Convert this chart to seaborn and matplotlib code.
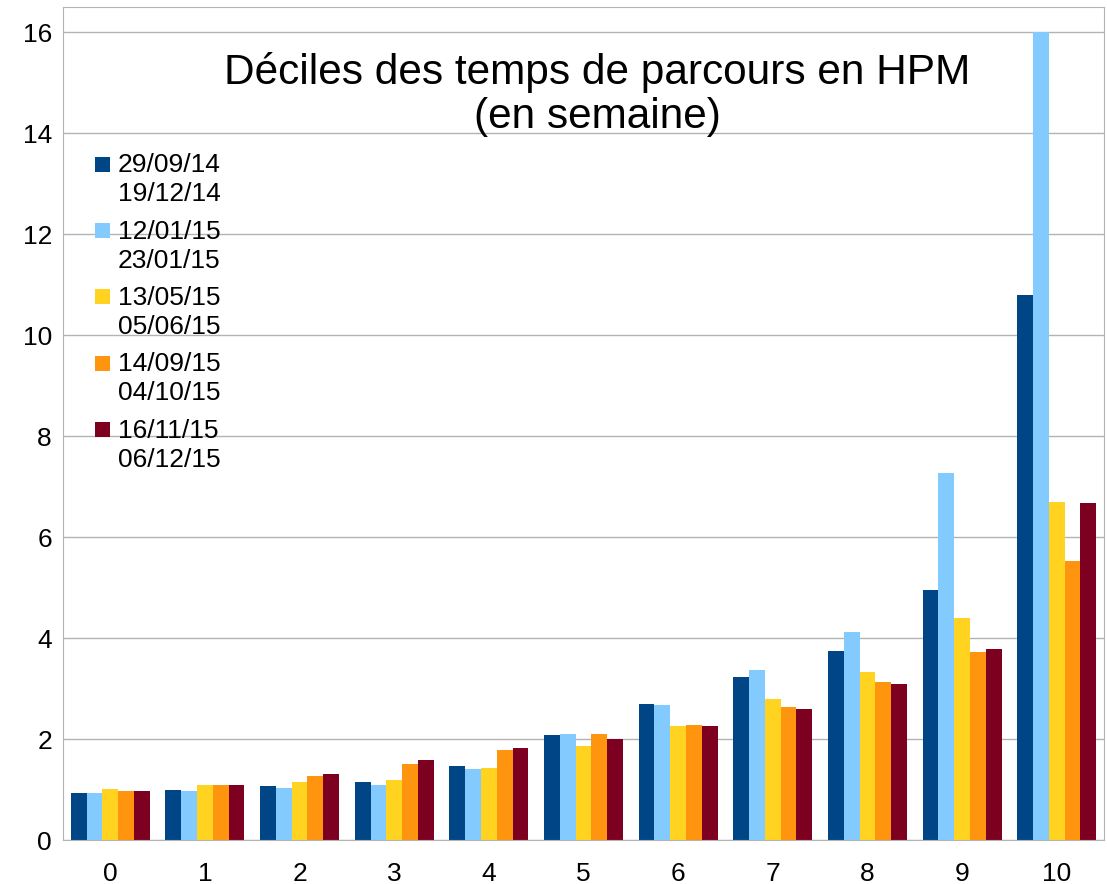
import numpy as np
import pandas as pd
import matplotlib
matplotlib.use('Agg')
import matplotlib.pyplot as plt
from matplotlib.patches import Rectangle
from matplotlib.legend_handler import HandlerPatch
import seaborn as sns

deciles = [str(i) for i in range(11)]
periods = ['29/09/14\n19/12/14', '12/01/15\n23/01/15', '13/05/15\n05/06/15',
           '14/09/15\n04/10/15', '16/11/15\n06/12/15']
colors = ['#004586', '#83CAFF', '#FFD320', '#FF950E', '#7E0021']

p1 = [0.93, 0.99, 1.07, 1.15, 1.47, 2.08, 2.69, 3.23, 3.74, 4.95, 10.79]
p2 = [0.93, 0.97, 1.03, 1.09, 1.41, 2.10, 2.67, 3.37, 4.12, 7.27, 16.0]
p3 = [1.01, 1.09, 1.15, 1.19, 1.43, 1.86, 2.26, 2.79, 3.33, 4.40, 6.69]
p4 = [0.97, 1.09, 1.27, 1.50, 1.78, 2.10, 2.28, 2.63, 3.13, 3.72, 5.52]
p5 = [0.97, 1.09, 1.31, 1.58, 1.82, 2.00, 2.26, 2.59, 3.09, 3.78, 6.67]

df = pd.DataFrame({'decile': deciles * 5,
                   'periode': np.repeat(periods, len(deciles)),
                   'temps': p1 + p2 + p3 + p4 + p5})

sns.set_style('white')
plt.rcParams['font.family'] = ['Liberation Sans', 'DejaVu Sans']
plt.rcParams['text.color'] = 'black'

fig = plt.figure(figsize=(11.07, 8.84), dpi=100)
ax = fig.add_axes([63 / 1107, 44 / 884, 1041 / 1107, 833 / 884])

sns.barplot(data=df, x='decile', y='temps', hue='periode', order=deciles,
            hue_order=periods, palette=colors, width=0.835, gap=0,
            saturation=1, linewidth=0, ax=ax, legend=True)

ax.set_xlim(-0.5, 10.5)
ax.set_ylim(0, 16.5)
ax.set_yticks(range(0, 17, 2))
ax.yaxis.grid(True, color='#b3b3b3', linewidth=1)
ax.set_axisbelow(True)
for s in ax.spines.values():
    s.set_color('#b3b3b3')
ax.set_xlabel('')
ax.set_ylabel('')

ax.set_xticks(np.arange(-0.5, 11, 1), minor=True)
ax.tick_params(axis='x', which='major', length=0, labelsize=19, pad=16,
               labelcolor='black')
ax.tick_params(axis='x', which='minor', length=6, color='#b3b3b3', width=1)
ax.tick_params(axis='y', length=4, color='#b3b3b3', labelsize=19, pad=4,
               labelcolor='black')

ax.text(0.513, 0.895, 'Déciles des temps de parcours en HPM\n(en semaine)',
        transform=ax.transAxes, ha='center', va='center', fontsize=30.5,
        linespacing=1.12, color='black')


# square aligned with the first line of each two-line label
def top_square(legend, orig_handle, xdescent, ydescent, width, height, fontsize):
    sq = 0.57 * fontsize
    return Rectangle((-xdescent, -ydescent + height - sq + 0.15 * fontsize), sq, sq)


leg = ax.legend(loc='upper left', bbox_to_anchor=(0.0205, 0.837), frameon=False,
                fontsize=19, handlelength=0.57, handleheight=2.0,
                handletextpad=0.3, labelspacing=0.5, borderaxespad=0,
                handler_map={Rectangle: HandlerPatch(patch_func=top_square)})
for t in leg.get_texts():
    t.set_linespacing(1.27)
    t.set_color('black')

fig.savefig('out.png', dpi=100)
